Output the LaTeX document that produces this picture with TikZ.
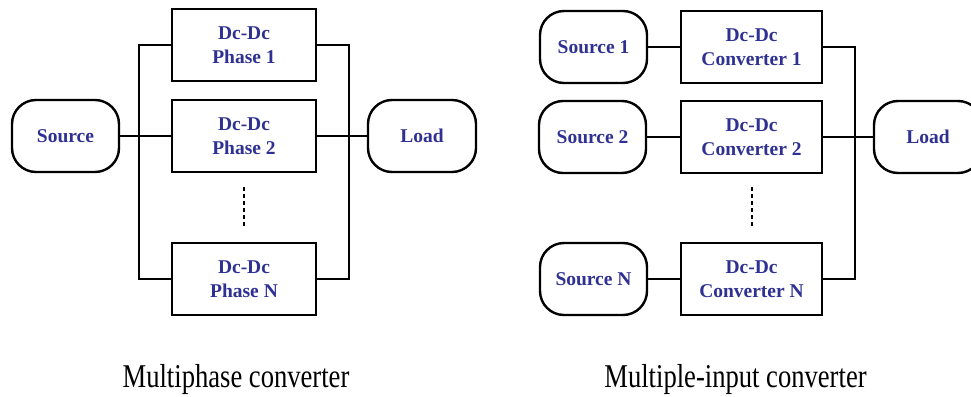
\documentclass[tikz,border=0pt]{standalone}
\usepackage{fontspec}
\setmainfont{Liberation Serif}
\definecolor{labelblue}{RGB}{46,49,146}
\begin{document}
\begin{tikzpicture}[x=1pt,y=-1pt,
  wire/.style={line width=2.4pt},
  block/.style={draw, line width=2.4pt, rectangle, minimum width=144pt, minimum height=72pt,
    inner sep=0pt, align=center, text=labelblue,
    font=\fontsize{19.5}{24}\selectfont\bfseries},
  term/.style={draw, line width=2.4pt, rounded corners=24pt, minimum width=107pt, minimum height=72pt,
    inner sep=0pt, align=center, text=labelblue,
    font=\fontsize{19.5}{24}\selectfont\bfseries},
  dotted gap/.style={line width=2.6pt, dash pattern=on 4pt off 3pt},
  caption/.style={font=\fontsize{26.6}{30}\selectfont, anchor=base, inner sep=0pt}]
\clip (0,0) rectangle (971,396);
\useasboundingbox (0,0) rectangle (971,396);

% ---- multiphase converter ----
\node[term]  (srcL)  at (65.5,136) {Source};
\node[block] (ph1)   at (244,45)   {Dc-Dc\\Phase 1};
\node[block] (ph2)   at (244,136)  {Dc-Dc\\Phase 2};
\node[block] (phN)   at (244,279)  {Dc-Dc\\Phase N};
\node[term, minimum width=108pt] (loadL) at (422,136) {Load};
\coordinate (jinL)  at (139,136);
\coordinate (joutL) at (349,136);
\coordinate (dotsLa) at (244,187);
\coordinate (dotsLb) at (244,228);

\draw[wire] (srcL.east) -- (ph2.west);
\draw[wire] (ph1.west) -| (jinL) |- (phN.west);
\draw[wire] (ph2.east) -- (loadL.west);
\draw[wire] (ph1.east) -| (joutL) |- (phN.east);
\draw[dotted gap] (dotsLa) -- (dotsLb);

\node[caption] (capL) at (236,387) {\scalebox{1}[1.25]{Multiphase converter}};

% ---- multiple-input converter ----
\node[term] (s1) at (593.5,47) {Source 1};
\node[term] (s2) at (592.5,137) {Source 2};
\node[term] (sN) at (593.5,279) {Source N};
\node[block, minimum width=141pt] (c1) at (751.5,47)  {Dc-Dc\\Converter 1};
\node[block, minimum width=141pt] (c2) at (751.5,137) {Dc-Dc\\Converter 2};
\node[block, minimum width=141pt] (cN) at (751.5,279) {Dc-Dc\\Converter N};
\node[term, minimum width=108pt] (loadR) at (928,137) {Load};
\coordinate (joutR) at (855,137);
\coordinate (dotsRa) at (752,187);
\coordinate (dotsRb) at (752,228);

\draw[wire] (s1.east) -- (c1.west);
\draw[wire] (s2.east) -- (c2.west);
\draw[wire] (sN.east) -- (cN.west);
\draw[wire] (c2.east) -- (loadR.west);
\draw[wire] (c1.east) -| (joutR) |- (cN.east);
\draw[dotted gap] (dotsRa) -- (dotsRb);

\node[caption] (capR) at (735.5,387) {\scalebox{1}[1.25]{Multiple-input converter}};
\end{tikzpicture}
\end{document}
